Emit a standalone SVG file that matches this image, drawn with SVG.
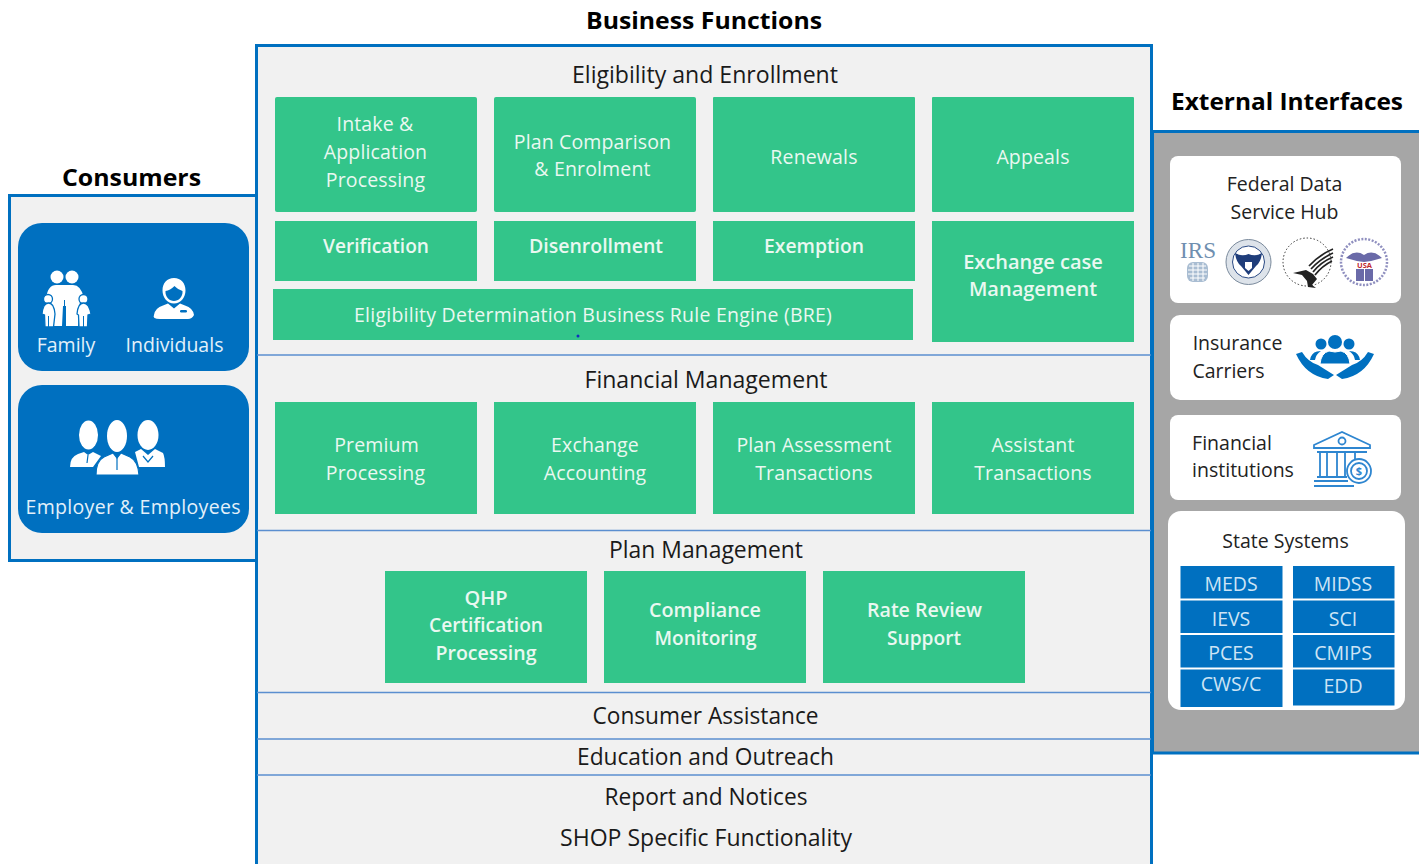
<svg xmlns="http://www.w3.org/2000/svg" width="1419" height="864" viewBox="0 0 1419 864">
<style>
text{font-family:"Open Sans","Liberation Sans",sans-serif;text-anchor:middle}
.t{font-weight:700;fill:#000;font-size:24px}
.h{fill:#1a1a1a;font-size:23.5px}
.g{fill:#33C58A}
.gt{fill:#EAF8F1;font-size:19.5px;letter-spacing:.15px}
.gb{fill:#EAF8F1;font-size:20px;font-weight:600}
.w{fill:#fff}
.wt{fill:#E3F0FA;font-size:19.5px}
.k{fill:#222;font-size:19.5px}
.bl{fill:#0070C0}
.st{fill:#CDE4F5;font-size:19.5px}
.div{stroke:#5B8FD0;stroke-width:1.5;fill:none}
.frame{stroke:#0070C0;stroke-width:3;fill:#F1F1F1}
.ic{fill:#0070C0}
</style>

<g id="consumers">
<rect class="frame" x="9.500" y="195.500" width="247" height="365"/>
<text class="t" x="131.500" y="186" textLength="139" lengthAdjust="spacingAndGlyphs">Consumers</text>
</g>
<g id="business-functions">
<rect class="frame" x="256.500" y="45.500" width="895" height="830"/>
<text class="t" x="704" y="29" textLength="236" lengthAdjust="spacingAndGlyphs">Business Functions</text>
</g>

<g id="connectors">
<path class="div" d="M257 355H1151M257 530.500H1151M257 692.500H1151M257 739H1151M257 775H1151"/>
</g>

<g id="section-headings">
<text class="h" x="705" y="83" textLength="266" lengthAdjust="spacingAndGlyphs">Eligibility and Enrollment</text>
<text class="h" x="706" y="388" textLength="243" lengthAdjust="spacingAndGlyphs">Financial Management</text>
<text class="h" x="706" y="558" textLength="194" lengthAdjust="spacingAndGlyphs">Plan Management</text>
<text class="h" x="705.500" y="724" textLength="226" lengthAdjust="spacingAndGlyphs">Consumer Assistance</text>
<text class="h" x="705.500" y="765" textLength="257" lengthAdjust="spacingAndGlyphs">Education and Outreach</text>
<text class="h" x="706" y="805" textLength="203" lengthAdjust="spacingAndGlyphs">Report and Notices</text>
<text class="h" x="706" y="846" textLength="292" lengthAdjust="spacingAndGlyphs">SHOP Specific Functionality</text>
</g>

<g id="intake"><rect class="g" x="275" y="97" width="202" height="115" rx="2"/>
<text class="gt" x="375" y="131">Intake &amp;</text><text class="gt" x="375.500" y="159">Application</text><text class="gt" x="375.500" y="187">Processing</text></g>
<g id="plan-comparison"><rect class="g" x="494" y="97" width="202" height="115" rx="2"/>
<text class="gt" x="592.500" y="149">Plan Comparison</text><text class="gt" x="592.500" y="176">&amp; Enrolment</text></g>
<g id="renewals"><rect class="g" x="713" y="97" width="202" height="115" rx="1"/>
<text class="gt" x="814" y="164">Renewals</text></g>
<g id="appeals"><rect class="g" x="932" y="97" width="202" height="115" rx="1"/>
<text class="gt" x="1033" y="164">Appeals</text></g>
<g id="verification"><rect class="g" x="275" y="221" width="202" height="60"/>
<text class="gb" x="376" y="253" textLength="106" lengthAdjust="spacingAndGlyphs">Verification</text></g>
<g id="disenrollment"><rect class="g" x="494" y="221" width="202" height="60"/>
<text class="gb" x="596" y="253" textLength="134" lengthAdjust="spacingAndGlyphs">Disenrollment</text></g>
<g id="exemption"><rect class="g" x="713" y="221" width="202" height="60"/>
<text class="gb" x="814" y="253" textLength="100" lengthAdjust="spacingAndGlyphs">Exemption</text></g>
<g id="exchange-case"><rect class="g" x="932" y="221" width="202" height="121"/>
<text class="gb" x="1033" y="269">Exchange case</text><text class="gb" x="1033" y="296">Management</text></g>
<g id="bre"><rect class="g" x="273" y="289" width="640" height="51"/>
<text class="gt" x="593" y="322" textLength="478">Eligibility Determination Business Rule Engine (BRE)</text>
<circle cx="578" cy="336" r="1.500" fill="#1030C0"/></g>

<g id="premium"><rect class="g" x="275" y="402" width="202" height="112"/>
<text class="gt" x="376.500" y="452">Premium</text><text class="gt" x="375.500" y="480">Processing</text></g>
<g id="accounting"><rect class="g" x="494" y="402" width="202" height="112"/>
<text class="gt" x="595" y="452">Exchange</text><text class="gt" x="595" y="480">Accounting</text></g>
<g id="assessment"><rect class="g" x="713" y="402" width="202" height="112"/>
<text class="gt" x="814" y="452">Plan Assessment</text><text class="gt" x="814" y="480">Transactions</text></g>
<g id="assistant"><rect class="g" x="932" y="402" width="202" height="112"/>
<text class="gt" x="1033" y="452">Assistant</text><text class="gt" x="1033" y="480">Transactions</text></g>

<g id="qhp"><rect class="g" x="385" y="571" width="202" height="112"/>
<text class="gb" x="486" y="605">QHP</text><text class="gb" x="486" y="632" textLength="114" lengthAdjust="spacingAndGlyphs">Certification</text><text class="gb" x="486" y="660" textLength="101" lengthAdjust="spacingAndGlyphs">Processing</text></g>
<g id="compliance"><rect class="g" x="604" y="571" width="202" height="112"/>
<text class="gb" x="705" y="617" textLength="112" lengthAdjust="spacingAndGlyphs">Compliance</text><text class="gb" x="705.500" y="645" textLength="102" lengthAdjust="spacingAndGlyphs">Monitoring</text></g>
<g id="rate-review"><rect class="g" x="823" y="571" width="202" height="112"/>
<text class="gb" x="924.500" y="617" textLength="115" lengthAdjust="spacingAndGlyphs">Rate Review</text><text class="gb" x="924" y="645" textLength="74" lengthAdjust="spacingAndGlyphs">Support</text></g>

<g id="family-individuals">
<rect class="bl" x="18" y="223" width="231" height="148" rx="24"/>
<g fill="#fff">
<circle cx="57" cy="277" r="6.500"/><circle cx="72" cy="277" r="6.500"/>
<path d="M46 298Q48 285 56 285H73Q81 285 84 298L80 300L78 326H66V306H63L62 326H51L50 300Z"/>
<g stroke="#0070C0" stroke-width="1.300">
<circle cx="48" cy="299" r="4.500"/><circle cx="83.500" cy="299" r="4.500"/>
<path d="M42 314Q43 303 48.500 303T55 314L53.500 327H45L44.500 315Z"/>
<path d="M77 314Q78 303 83.500 303T91 314L88 315L87.500 327H79L78.500 315Z"/>
</g>
<path d="M48.500 316V327M83.500 316V327M64.500 300V306" stroke="#0070C0" stroke-width="1"/>
</g>
<g fill="#fff">
<path d="M174 278c-7 0-11.500 5-11.500 12.500 0 7 5 13 11.500 13s11.500-6 11.500-13c0-7.500-4.500-12.500-11.500-12.500zm-8.500 13c3-.5 6-2 9-5 2 2 5 4 8 5 .5 6-4 10-8.500 10s-9-4-8.500-10z"/>
<path d="M154 315q1-7 9-9.500l5-2 6 5 6-5 5 2q8 2.500 9 9.500-2 4-6 4h-28q-8 0-6-4z"/>
<rect x="180" y="310" width="7" height="2.500" rx="1.200" fill="#0070C0"/>
</g>
<text class="wt" x="66" y="352">Family</text>
<text class="wt" x="174.500" y="352">Individuals</text>
</g>
<g id="employer-employees">
<rect class="bl" x="18" y="385" width="231" height="148" rx="24"/>
<g fill="#fff">
<ellipse cx="88.500" cy="435" rx="9.500" ry="14.500"/><ellipse cx="117" cy="436" rx="10" ry="16"/><ellipse cx="148" cy="435" rx="10.500" ry="15"/>
<path d="M70 467q0-10 8-13l6-2 4 3 5-3 8 4-8 11z"/>
<path d="M135 452l6-3 7 6 7-6 8 4q2 4 2 14h-26z"/>
<path d="M96 475q0-14 8-18l9-4 4 5 4-5 9 4q8 4 9 18z" stroke="#0070C0" stroke-width="1.200"/>
<path d="M88 455l-1 8M117 458v12M143 456l5 6 5-6" stroke="#0070C0" stroke-width="1.200" fill="none"/>
</g>
<text class="wt" x="133" y="514" textLength="215">Employer &amp; Employees</text>
</g>

<g id="external-interfaces">
<path d="M1419 131.500H1152.500V753H1419V131.500Z" fill="#A6A6A6"/>
<path d="M1419 131.500H1152.500V753H1419" fill="none" stroke="#0070C0" stroke-width="3"/>
<text class="t" x="1287" y="110" textLength="232" lengthAdjust="spacingAndGlyphs">External Interfaces</text>
</g>

<g id="federal-hub">
<rect class="w" x="1170" y="156" width="231" height="147" rx="8"/>
<text class="k" x="1284.500" y="191">Federal Data</text>
<text class="k" x="1284.500" y="219">Service Hub</text>
<text x="1198" y="258" font-size="24" style="font-family:'Liberation Serif',serif" fill="#6F8FB0" textLength="36" lengthAdjust="spacingAndGlyphs">IRS</text>
<rect x="1187" y="262" width="21" height="20" rx="6" fill="#A9BDD2"/><path d="M1189 266h17M1188 270h19M1188 274h19M1190 278h15M1193 263v18M1198 263v18M1203 263v18" stroke="#fff" stroke-width="1"/>
<circle cx="1248.500" cy="262" r="22.500" fill="#DDE3EA" stroke="#7A8A9C"/>
<circle cx="1248.500" cy="262" r="16" fill="#fff" stroke="#2A4A84"/>
<path d="M1235 253q7 4 13.500 1 7 3 13.500-1-1 9-6 13l-7.500 9-7.500-9q-5-4-6-13z" fill="#1F3D7A"/>
<path d="M1245 262h7v6l-3.500 3-3.500-3z" fill="#fff"/>
<circle cx="1307" cy="262" r="24" fill="none" stroke="#333" stroke-width="1" stroke-dasharray="1.500 2"/>
<path d="M1333 249q-14 6-24 17M1333 253q-13 6-22 16M1333 257q-12 5-20 15M1332 261q-10 5-17 14" stroke="#222" stroke-width="1.700" fill="none"/>
<path d="M1293 273l13-3 7 4 4 5-5 6 4 3-8-1-1-6-5-6z" fill="#222"/>
<circle cx="1364" cy="262" r="23" fill="none" stroke="#8F8FBF" stroke-width="2.500" stroke-dasharray="2 1.500"/>
<path d="M1346 258q9-9 18-3 9-6 18 3-9 3-18 4-9-1-18-4z" fill="#6A6AA8"/>
<rect x="1356" y="269" width="17" height="12" fill="#6A6AA8"/><path d="M1364.500 269v12" stroke="#fff"/>
<text x="1364.500" y="268" font-size="7.500" font-weight="700" fill="#C0272D">USA</text>
</g>

<g id="insurance-carriers">
<rect class="w" x="1170" y="315" width="231" height="85" rx="10"/>
<text class="k" x="1237.500" y="350">Insurance</text>
<text class="k" x="1228.500" y="378">Carriers</text>
<g class="ic">
<circle cx="1335" cy="342" r="7"/><circle cx="1321" cy="344" r="5.500"/><circle cx="1349" cy="344" r="5.500"/>
<path d="M1310 360q1-7 7-8.500l4-.5q-5 3-6 9zM1360 360q-1-7-7-8.500l-4-.5q5 3 6 9z"/>
<path d="M1320 364q1-11 9-13l6 1 6-1q8 2 9 13z" stroke="#fff" stroke-width="1"/>
<path d="M1296 354l6-2q6 10 16 13l16 10-6 4q-22-3-32-25z"/>
<path d="M1374 354l-6-2q-6 10-16 13l-16 10 6 4q22-3 32-25z"/>
</g>
</g>

<g id="financial-institutions">
<rect class="w" x="1170" y="415" width="231" height="85" rx="8"/>
<text class="k" x="1232" y="450">Financial</text>
<text class="k" x="1243" y="477">institutions</text>
<g fill="none" stroke="#2E86D0" stroke-width="1.800">
<path d="M1314 445l28-13 28 13v3h-56z"/><circle cx="1342" cy="441" r="3.500"/>
<path d="M1317 452h50M1320 453v23M1327 453v23M1337 453v23M1345 453v23M1355 453v7"/>
<path d="M1317 477h30M1314 481h34M1314 486h40"/>
<circle cx="1359" cy="471" r="12" fill="#fff"/><circle cx="1359" cy="471" r="8"/>
</g>
<text x="1359" y="475" font-size="11" font-weight="700" fill="#2E86D0">$</text>
</g>

<g id="state-systems">
<rect class="w" x="1168" y="511" width="237" height="199" rx="13"/>
<text class="k" x="1285.500" y="548">State Systems</text>
<g class="bl">
<rect x="1180.500" y="566" width="102" height="32.500"/><rect x="1293" y="566" width="101.500" height="32.500"/>
<rect x="1180.500" y="600.500" width="102" height="32.500"/><rect x="1293" y="600.500" width="101.500" height="32.500"/>
<rect x="1180.500" y="635" width="102" height="32.500"/><rect x="1293" y="635" width="101.500" height="32.500"/>
<rect x="1180.500" y="669.500" width="102" height="37.500"/><rect x="1293" y="669.500" width="101.500" height="36"/>
</g>
<text class="st" x="1231" y="591">MEDS</text><text class="st" x="1343" y="591">MIDSS</text>
<text class="st" x="1231" y="626">IEVS</text><text class="st" x="1343" y="626">SCI</text>
<text class="st" x="1231" y="660">PCES</text><text class="st" x="1343" y="660">CMIPS</text>
<text class="st" x="1231" y="691">CWS/C</text><text class="st" x="1343" y="693">EDD</text>
</g>
</svg>
